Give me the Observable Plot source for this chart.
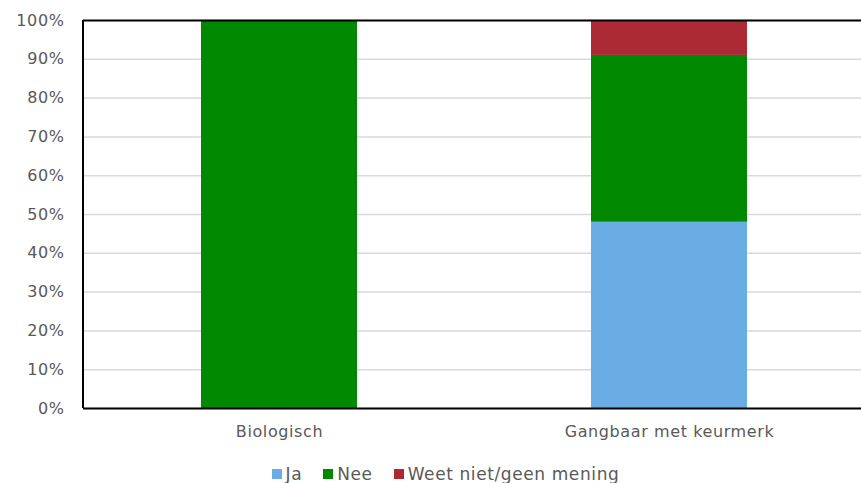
<!DOCTYPE html>
<html>
<head>
<meta charset="utf-8">
<script src="https://cdn.jsdelivr.net/npm/d3@7"></script>
<script src="https://cdn.jsdelivr.net/npm/@observablehq/plot@0.6"></script>
<style>
  html, body { margin: 0; padding: 0; background: #fff; }
  #chart { width: 861px; }
  #legend { display: flex; justify-content: center; align-items: center; height: 20px; margin-top: 19px;
            font-family: "DejaVu Sans", sans-serif; font-size: 17px; letter-spacing: 0.6px; color: #595959; padding-left: 30px; }
  .item { display: flex; align-items: center; margin-right: 21px; }
  .item:last-child { margin-right: 0; }
  .sw { width: 10px; height: 10px; margin-right: 4px; }
</style>
</head>
<body>
<div id="chart"></div>
<div id="legend"></div>
<script>
const categories = ["Biologisch", "Gangbaar met keurmerk"];
const answers = ["Ja", "Nee", "Weet niet/geen mening"];
const colors = ["#6aace4", "#008800", "#ab2a33"];
const jaValues = [0, 48];
const neeValues = [100, 43];
const weetValues = [0, 9];
const yTicks = [0, 10, 20, 30, 40, 50, 60, 70, 80, 90, 100];

const seriesValues = [jaValues, neeValues, weetValues];
const rows = [];
categories.forEach((c, i) => {
  answers.forEach((a, j) => rows.push({category: c, answer: a, value: seriesValues[j][i]}));
});

const font = '"DejaVu Sans", sans-serif';
const plot = Plot.plot({
  width: 861,
  height: 445,
  marginLeft: 83,
  marginRight: 0,
  marginTop: 20,
  marginBottom: 37,
  style: {fontFamily: font, fontSize: "16px", color: "#595959", background: "#fff", letterSpacing: "0.6px"},
  x: {domain: categories, paddingInner: 0.6, paddingOuter: 0.295, align: 0.51, label: null},
  y: {domain: [0, 100], ticks: yTicks, label: null},
  color: {domain: answers, range: colors},
  marks: [
    Plot.gridY(yTicks, {stroke: "#d9d9d9", strokeOpacity: 1, strokeWidth: 1.5}),
    Plot.barY(rows, {x: "category", y: "value", fill: "answer", order: answers}),
    Plot.ruleY([100], {stroke: "#000", strokeWidth: 2}),
    Plot.ruleY([0], {stroke: "#000", strokeWidth: 2}),
    Plot.axisY(yTicks, {tickSize: 0, tickPadding: 19, tickFormat: d => d + "%", fontSize: 16, fill: "#595959"}),
    Plot.axisX({tickSize: 0, tickPadding: 17, fontSize: 16, fill: "#595959"})
  ]
});
document.getElementById("chart").appendChild(plot);

// left axis line at the plot's left edge, positioned from the y scale
const yScale = plot.scale("y");
d3.select(plot).append("line")
  .attr("x1", 83).attr("x2", 83)
  .attr("y1", yScale.apply(100)).attr("y2", yScale.apply(0))
  .attr("stroke", "#000").attr("stroke-width", 2);

// legend built from the same colour scale
const colorScale = plot.scale("color");
const items = d3.select("#legend").selectAll(".item").data(answers).join("div").attr("class", "item");
items.append("div").attr("class", "sw").style("background", d => colorScale.apply(d));
items.append("span").text(d => d);
</script>
</body>
</html>
